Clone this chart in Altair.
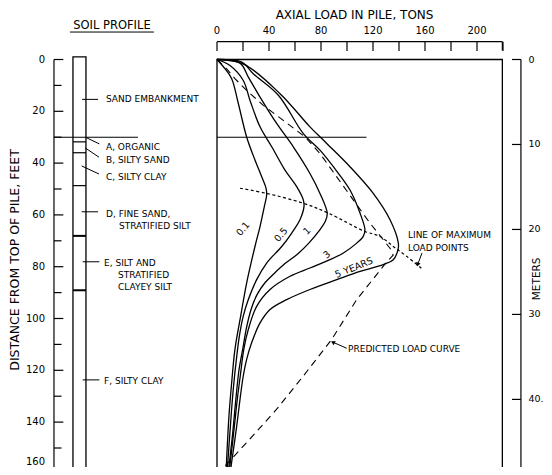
import altair as alt
import pandas as pd

FONT = "DejaVu Sans"

# ------------------------------------------------------------------
# Data: axial load (tons) against depth (feet)
# ------------------------------------------------------------------
load_01 = [0, 6.2, 11.3, 16.4, 22.8, 29.2, 34.4, 37.7, 38.2, 36.4, 33.1, 29.2, 22.8, 18.2, 13.8, 11.3, 9.2, 7.8, 6.9]
depth_01 = [0, 3.6, 7.4, 17.0, 29.9, 38.8, 45.3, 49.7, 52.3, 56.8, 64.5, 72.2, 86.3, 99.1, 111.9, 124.7, 137.6, 150.4, 160]

load_05 = [0, 10, 20.2, 25.4, 33.1, 42.1, 52.3, 61.3, 66.4, 66.9, 63.8, 57.5, 49.8, 38.2, 30.5, 24.1, 20.2, 17.2, 15.2, 12.5, 10.5, 7.7]
depth_05 = [0, 2.3, 8.1, 15.8, 26.0, 33.7, 42.7, 49.1, 54.2, 56.8, 61.9, 67.0, 72.2, 78.6, 85.0, 92.7, 99.1, 106.8, 114.5, 127.3, 140.1, 160]

load_1 = [0, 17.7, 24.1, 33.1, 45.9, 58.7, 71.5, 79.2, 84.8, 83.5, 78.5, 70.8, 62.3, 52.3, 43.8, 36.9, 30.8, 26.2, 22.7, 20.0, 17.0, 14.5, 12.0, 8.5]
depth_1 = [0, 1.4, 6.8, 14.5, 24.7, 33.7, 44.0, 51.7, 59.3, 62.3, 66.2, 70.8, 75.0, 78.8, 82.7, 86.2, 90.8, 96.5, 103.5, 111.2, 119.6, 131.2, 144.6, 160]

load_3 = [0, 19, 27.9, 47.2, 66.4, 79.2, 89.5, 102.3, 110, 113.8, 112.5, 107.5, 97.2, 86.9, 71.5, 56.2, 40.8, 30.5, 24.1, 20.6, 17.9, 15.6, 13.4, 11.4, 9.2]
depth_3 = [0, 1.0, 5.5, 13.8, 28.6, 35.0, 41.4, 50.4, 59.3, 65.8, 68.3, 70.9, 74.7, 77.3, 80.5, 83.7, 88.8, 95.3, 104.2, 111.9, 122.2, 131.2, 141.4, 150.4, 160]

load_5 = [0, 20.2, 48.5, 71.5, 84.4, 102.3, 120.2, 133.1, 139.5, 139.2, 135.6, 127.9, 110, 92.1, 71.5, 53.6, 40.8, 33.1, 26.7, 22.8, 20.2, 17.7, 15.2, 12.7, 10]
depth_5 = [0, 1.7, 13.2, 26.0, 32.4, 41.4, 51.7, 61.9, 70.9, 73.5, 77.3, 79.2, 81.8, 85.0, 88.8, 92.7, 96.5, 101.7, 109.3, 115.8, 122.2, 131.2, 141.4, 150.4, 160]

predicted_load = [0, 7.5, 13.8, 22.8, 35.6, 51, 67.7, 79.2, 92.1, 104.8, 117.7, 127.9, 134, 135.5, 130, 107.5, 88.2, 66.4, 45.9, 25.4, 7.5, 0]
predicted_depth = [0, 3.6, 7.4, 11.9, 17.7, 23.5, 29.9, 36.3, 45.3, 54.2, 63.2, 69.6, 73.5, 75.5, 78.5, 92.7, 108.1, 122.2, 135, 146.5, 156.2, 160]

maxline_load = [17.7, 38.2, 66.4, 85.6, 113.8, 125.4, 135.6, 145.9, 158.7]
maxline_depth = [49.7, 51.7, 55.5, 59.3, 66.4, 68.3, 72.2, 76.0, 81.2]

curve_names = ["0.1", "0.5", "1", "3", "5 YEARS"]
curve_label_load = [20, 49.2, 69.2, 84.6, 105.4]
curve_label_depth = [65.4, 67.7, 66.2, 75.4, 80.4]
curve_label_angle = [310, 310, 315, 320, 338]

top_ticks = list(range(0, 221, 20))
top_labels = [0, 40, 80, 120, 160, 200]
feet_ticks = list(range(0, 161, 10))
feet_labels = list(range(0, 141, 20))
feet_last_label = 160
meter_ticks = [0, 10, 20, 30, 40]
meter_labels = ["0", "10", "20", "30", "40."]
FT_PER_M = 3.2808

soil_bounds = [31.8, 36, 48.7, 68.1, 89.1]
soil_bound_width = [1.2, 1.2, 1.2, 2, 2]
layer_label = ["SAND EMBANKMENT", "A, ORGANIC", "B, SILTY SAND", "C, SILTY CLAY",
               "D, FINE SAND,", "STRATIFIED SILT", "E, SILT AND", "STRATIFIED",
               "CLAYEY SILT", "F, SILTY CLAY"]
layer_label_load = [-85.4, -85.4, -85.4, -85.4, -85.4, -75.4, -86.9, -76.2, -76.2, -86.9]
layer_label_depth = [15.4, 33.9, 38.8, 45.3, 59.8, 64.3, 78.5, 83.2, 88.0, 124.1]
leader_from_load = [-103.8, -100.8, -101.5, -104.1, -104.1, -103.3, -103.3]
leader_from_depth = [15.4, 30.1, 34.1, 41.1, 58.8, 78.1, 123.7]
leader_to_load = [-91.5, -90.5, -90.8, -90.8, -91.5, -90.5, -90.5]
leader_to_depth = [15.4, 32.6, 37.7, 44.2, 58.8, 78.1, 123.7]

# ------------------------------------------------------------------
# Layout: one shared coordinate frame (tons across, feet down)
# ------------------------------------------------------------------
W, H = 536, 459
PX_PER_TON = 1.3
PX_PER_FT = 2.59
X0 = 209.0   # chart pixel of 0 tons
Y0 = 51.5    # chart pixel of 0 feet
XMIN, XMAX = -X0 / PX_PER_TON, (W - X0) / PX_PER_TON
YMIN, YMAX = -Y0 / PX_PER_FT, (H - Y0) / PX_PER_FT

xs = alt.Scale(domain=[XMIN, XMAX], nice=False, zero=False)
ys = alt.Scale(domain=[YMIN, YMAX], nice=False, zero=False, reverse=True)


def X(f):
    return alt.X(f, type="quantitative", scale=xs, axis=None)


def Y(f):
    return alt.Y(f, type="quantitative", scale=ys, axis=None)


def rules(df, width=1.2, dash=None):
    kw = dict(color="black", strokeWidth=width)
    if dash:
        kw["strokeDash"] = dash
    return alt.Chart(df).mark_rule(**kw).encode(
        x=X("t"), x2=alt.X2("t2"), y=Y("ft"), y2=alt.Y2("ft2"))


def texts(df, size=9, align="left", angle=False, baseline="middle", dy=0):
    enc = dict(x=X("t"), y=Y("ft"), text=alt.Text("label:N"))
    if angle:
        enc["angle"] = alt.Angle("angle:Q", scale=None)
    return alt.Chart(df).mark_text(font=FONT, fontSize=size, align=align,
                                   baseline=baseline, color="black",
                                   dy=dy).encode(**enc)


# curves
rows = []
for name, ts, ds in [("0.1", load_01, depth_01), ("0.5", load_05, depth_05),
                     ("1", load_1, depth_1), ("3", load_3, depth_3),
                     ("5", load_5, depth_5)]:
    for i, (t, d) in enumerate(zip(ts, ds)):
        rows.append({"series": name, "i": i, "t": t, "ft": d})
curve_df = pd.DataFrame(rows)

curves = alt.Chart(curve_df).mark_line(color="black", strokeWidth=1.3,
                                        interpolate="catmull-rom").encode(
    x=X("t"), y=Y("ft"), detail="series:N", order="i:Q")

pred_df = pd.DataFrame({"t": predicted_load, "ft": predicted_depth,
                        "i": range(len(predicted_load))})
predicted = alt.Chart(pred_df).mark_line(color="black", strokeWidth=1.1,
                                          strokeDash=[7, 5]).encode(
    x=X("t"), y=Y("ft"), order="i:Q")

max_df = pd.DataFrame({"t": maxline_load, "ft": maxline_depth,
                       "i": range(len(maxline_load))})
maxline = alt.Chart(max_df).mark_line(color="black", strokeWidth=1.2,
                                       strokeDash=[3, 2.5],
                                       interpolate="catmull-rom").encode(
    x=X("t"), y=Y("ft"), order="i:Q")

curve_labels = texts(pd.DataFrame({"label": curve_names, "t": curve_label_load,
                                   "ft": curve_label_depth,
                                   "angle": curve_label_angle}),
                     size=9.5, align="center", angle=True)

# plot frame and the 30 ft line
frame = alt.Chart(pd.DataFrame({"t": [0], "t2": [219.5], "ft": [0], "ft2": [160]})).mark_rect(
    fillOpacity=0, stroke="black", strokeWidth=1.3).encode(
    x=X("t"), x2=alt.X2("t2"), y=Y("ft"), y2=alt.Y2("ft2"))
line30 = rules(pd.DataFrame({"t": [0, -125.4], "t2": [115, -60.8],
                             "ft": [30, 30], "ft2": [30, 30]}), width=1.1)

# top axis (tons)
top_line = rules(pd.DataFrame({"t": [0], "t2": [219.5], "ft": [-6.9], "ft2": [-6.9]}))
top_tick = rules(pd.DataFrame({"t": top_ticks, "t2": top_ticks,
                               "ft": [-6.9] * len(top_ticks), "ft2": [-3.3] * len(top_ticks)}))
top_tick_end = rules(pd.DataFrame({"t": [219.5], "t2": [219.5], "ft": [-6.9], "ft2": [-3.6]}))
top_lab = texts(pd.DataFrame({"label": [str(v) for v in top_labels], "t": top_labels,
                              "ft": [-11.1] * len(top_labels)}), size=10, align="center")
top_title = texts(pd.DataFrame({"label": ["AXIAL LOAD IN PILE, TONS"], "t": [105.8], "ft": [-17.0]}),
                  size=12, align="center")

# left axis (feet)
left_line = rules(pd.DataFrame({"t": [-125.4], "t2": [-125.4], "ft": [0], "ft2": [175]}))
left_tick = rules(pd.DataFrame({"t": [-125.4] * len(feet_ticks),
                                "t2": [-118.2 if v % 20 == 0 else -119.6 for v in feet_ticks],
                                "ft": feet_ticks, "ft2": feet_ticks}))
left_lab = texts(pd.DataFrame({"label": [str(v) for v in feet_labels],
                               "t": [-132.3] * len(feet_labels), "ft": feet_labels}),
                 size=10, align="right")
# the last label sits at the bottom edge of the picture: keep it just inside
left_lab_last = texts(pd.DataFrame({"label": [str(feet_last_label)], "t": [-132.3],
                                    "ft": [YMAX]}), size=10, align="right", baseline="bottom")
left_title = texts(pd.DataFrame({"label": ["DISTANCE FROM TOP OF PILE, FEET"], "t": [-155.2],
                                 "ft": [77.4], "angle": [270]}), size=12.5, align="center", angle=True)

# right axis (meters)
mt = [m * FT_PER_M for m in meter_ticks]
right_line = rules(pd.DataFrame({"t": [233.8], "t2": [233.8], "ft": [0], "ft2": [175]}))
right_tick = rules(pd.DataFrame({"t": [226.9] * len(mt), "t2": [233.8] * len(mt),
                                 "ft": mt, "ft2": mt}))
right_lab = texts(pd.DataFrame({"label": meter_labels, "t": [239.6] * len(mt), "ft": mt}),
                  size=9.5, align="left")
right_title = texts(pd.DataFrame({"label": ["METERS"], "t": [245.8], "ft": [84.7], "angle": [270]}),
                    size=10.5, align="center", angle=True)

# soil profile column
soil_col = alt.Chart(pd.DataFrame({"t": [-110.8], "t2": [-100.8], "ft": [-1.0], "ft2": [175]})).mark_rect(
    fillOpacity=0, stroke="black", strokeWidth=1.3).encode(
    x=X("t"), x2=alt.X2("t2"), y=Y("ft"), y2=alt.Y2("ft2"))
soil_b = alt.Chart(pd.DataFrame({"t": [-110.8] * len(soil_bounds), "t2": [-100.8] * len(soil_bounds),
                                 "ft": soil_bounds, "ft2": soil_bounds, "w": soil_bound_width})).mark_rule(
    color="black").encode(x=X("t"), x2=alt.X2("t2"), y=Y("ft"), y2=alt.Y2("ft2"),
                          strokeWidth=alt.StrokeWidth("w:Q", scale=None))
leaders = rules(pd.DataFrame({"t": leader_from_load, "t2": leader_to_load,
                              "ft": leader_from_depth, "ft2": leader_to_depth}), width=1)
layer_text = texts(pd.DataFrame({"label": layer_label, "t": layer_label_load,
                                 "ft": layer_label_depth}), size=9)
soil_title = texts(pd.DataFrame({"label": ["SOIL PROFILE"], "t": [-80.8], "ft": [-12.9]}),
                   size=11.5, align="center")
soil_uline = rules(pd.DataFrame({"t": [-113.1], "t2": [-48.5], "ft": [-10.6], "ft2": [-10.6]}), width=1)

# annotations with arrows
notes = texts(pd.DataFrame({"label": ["LINE OF MAXIMUM", "LOAD POINTS", "PREDICTED LOAD CURVE"],
                            "t": [146.9, 146.9, 100.8], "ft": [67.8, 72.9, 111.8]}), size=9)
arrow_lines = rules(pd.DataFrame({"t": [99.8, 157.7], "t2": [88.5, 154.2],
                                  "ft": [111.5, 74.7], "ft2": [109.0, 79.4]}), width=1)
arrow_heads = alt.Chart(pd.DataFrame({"t": [89.6, 154.5], "ft": [109.3, 78.9],
                                      "angle": [294, 200]})).mark_point(
    shape="triangle", filled=True, size=22, color="black", opacity=1).encode(
    x=X("t"), y=Y("ft"), angle=alt.Angle("angle:Q", scale=None))

chart = alt.layer(
    frame, line30, curves, predicted, maxline, curve_labels,
    top_line, top_tick, top_tick_end, top_lab, top_title,
    left_line, left_tick, left_lab, left_lab_last, left_title,
    right_line, right_tick, right_lab, right_title,
    soil_col, soil_b, leaders, layer_text, soil_title, soil_uline,
    notes, arrow_lines, arrow_heads,
).properties(
    width=W, height=H, padding=0, background="white",
    autosize=alt.AutoSizeParams(type="none"),
).configure_view(strokeOpacity=0)

chart.save("out.html", embed_options={"renderer": "svg", "actions": False})
